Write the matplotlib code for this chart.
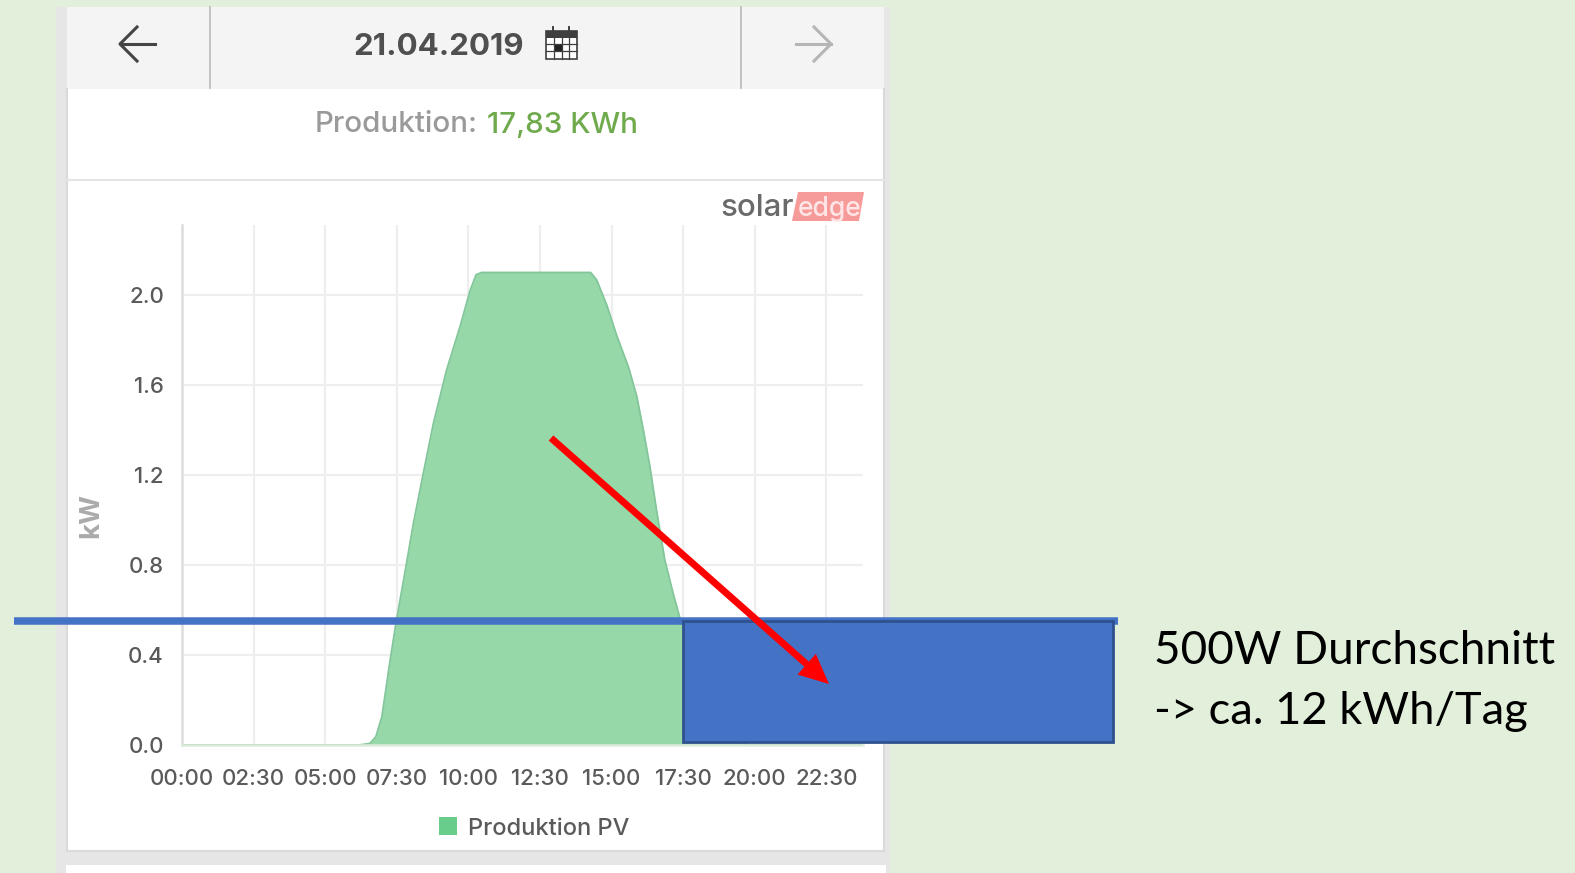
import matplotlib
matplotlib.use("Agg")
import matplotlib.pyplot as plt
from matplotlib.patches import Rectangle, Polygon, FancyArrowPatch

W, H = 1575, 873

# Chart data
hours = [0, 6.2, 6.56, 6.77, 6.98, 7.27, 7.47, 7.79, 8.08, 8.43, 8.78, 9.24, 9.71, 10.06,
         10.27, 10.46, 11.5, 12.5, 13.5, 14.27, 14.48, 14.83, 15.18, 15.59, 15.88, 16.11,
         16.34, 16.57, 16.86, 17.15, 17.39, 17.8, 18.3, 18.8, 19.3, 19.8, 23.78]
power_kw = [0, 0, 0.007, 0.037, 0.126, 0.378, 0.54, 0.77, 0.985, 1.21, 1.43, 1.667, 1.86, 2.02,
            2.09, 2.10, 2.10, 2.10, 2.10, 2.10, 2.067, 1.956, 1.82, 1.68, 1.55, 1.40,
            1.237, 1.044, 0.822, 0.674, 0.563, 0.40, 0.22, 0.09, 0.02, 0, 0]
x_tick_hours = [0, 2.5, 5, 7.5, 10, 12.5, 15, 17.5, 20, 22.5]
x_tick_labels = ["00:00", "02:30", "05:00", "07:30", "10:00", "12:30", "15:00", "17:30", "20:00", "22:30"]
y_ticks = [0.0, 0.4, 0.8, 1.2, 1.6, 2.0]
average_kw = 0.551
average_start = 17.5
average_end = 32.5
line_start = -5.87
line_end = 32.68

FILL = "#97D8A9"
EDGE = "#82C69A"
SWATCH = "#68CC8A"
GRID = "#EEEEEE"
TEXT = "#5A5A5A"
BLUE = "#4472C4"
BLUE_DARK = "#2F528F"
UI_FONT = ["Inter", "DejaVu Sans"]

fig = plt.figure(figsize=(W / 100, H / 100), dpi=100, facecolor="#E2EFDA")

# Phone screen background in pixel coordinates
ui = fig.add_axes([0, 0, 1, 1], zorder=0)
ui.set_xlim(0, W)
ui.set_ylim(H, 0)
ui.axis("off")
ui.add_patch(Rectangle((56, 7), 834, 866, fc="#E6E6E6", ec="none"))
ui.add_patch(Rectangle((67, 7), 817, 82, fc="#F4F4F4", ec="none"))
ui.add_patch(Rectangle((67, 89), 817, 762, fc="white", ec="none"))
ui.plot([67, 67, 884, 884], [89, 851, 851, 89], color="#DADADA", lw=1.5)
ui.add_patch(Rectangle((66, 865), 820, 10, fc="white", ec="none"))
ui.plot([67, 884], [180, 180], color="#E4E4E4", lw=1.5)
for xd in (210, 741):
    ui.plot([xd, xd], [7, 88], color="#BDBDBD", lw=1.3)

# Navigation arrows
ui.plot([121, 155], [44, 44], color="#444444", lw=2.2)
ui.plot([137, 120, 137], [27, 44, 61], color="#444444", lw=2.2)
ui.plot([796, 831], [44, 44], color="#B5B5B5", lw=2.2)
ui.plot([814, 831, 814], [27, 44, 61], color="#B5B5B5", lw=2.2)

# Header text
ui.text(439, 47, "21.04.2019", ha="center", va="center", fontsize=22.5, fontweight="bold",
        color="#4F4F4F", family=UI_FONT)
ui.text(315, 125, "Produktion:", ha="left", va="center", fontsize=21.3, fontweight="medium",
        color="#9A9A9A", family=UI_FONT)
ui.text(487, 125, "17,83 KWh", ha="left", va="center", fontsize=21.3, fontweight="medium",
        color="#6FAA4C", family=UI_FONT)

# Calendar icon
ui.add_patch(Rectangle((546, 31), 31, 28, fc="white", ec="#3E3E3E", lw=1.2))
ui.add_patch(Rectangle((546, 31), 31, 7, fc="#3E3E3E", ec="none"))
for gx in (554, 562, 569):
    ui.plot([gx, gx], [38, 59], color="#3E3E3E", lw=0.9)
for gy in (44, 51):
    ui.plot([546, 577], [gy, gy], color="#3E3E3E", lw=0.9)
for gx in (553, 569):
    ui.plot([gx, gx], [27, 33], color="#3E3E3E", lw=1.4)
ui.add_patch(Rectangle((554, 44), 8, 7, fc="#222222", ec="none"))

# solaredge logo
ui.add_patch(Polygon([(798, 192), (864, 192), (859, 221), (792, 221)], fc="#F79A9A", ec="none"))
ui.text(720, 208, "solar", ha="left", va="center", fontsize=22.5, fontweight="medium",
        color="#6A6A6A", family=UI_FONT)
ui.text(798, 209, "edge", ha="left", va="center", fontsize=19, fontweight="medium",
        color="#FFE6E6", family=UI_FONT)

# Chart, scaled so that 2.5 h = 71.6 px and 0.4 kW = 90 px
ax = fig.add_axes([182 / W, 1 - 745 / H, (863 - 182) / W, (745 - 225) / H], zorder=1)
ax.patch.set_alpha(0)
ax.set_xlim(0, 23.78)
ax.set_ylim(0, 2.311)
ax.set_xticks(x_tick_hours, x_tick_labels)
ax.set_yticks(y_ticks, [f"{v:.1f}" for v in y_ticks])
ax.grid(True, color=GRID, lw=1.6)
ax.set_axisbelow(True)
for side in ("top", "right"):
    ax.spines[side].set_visible(False)
ax.spines["left"].set_color("#DDDDDD")
ax.spines["left"].set_linewidth(1.8)
ax.spines["bottom"].set_color("#DDEBDD")
ax.spines["bottom"].set_linewidth(1.8)
ax.tick_params(length=0, labelsize=16, labelcolor=TEXT)
ax.tick_params(axis="x", pad=17.5)
ax.tick_params(axis="y", pad=13)
for lab in ax.get_xticklabels() + ax.get_yticklabels():
    lab.set_family(UI_FONT)
    lab.set_fontweight("medium")
ax.set_ylabel("kW", fontsize=20, fontweight="bold", color="#ABABAB", family=UI_FONT)
ax.yaxis.set_label_coords((104 - 182) / (863 - 182), (745 - 515) / (745 - 225))
ax.fill_between(hours, power_kw, color=FILL, lw=0, label="Produktion PV", zorder=2)
ax.plot(hours, power_kw, color=EDGE, lw=1.3, zorder=2.1)

# Average line and block overlaid in chart units
ax.plot([line_start, line_end], [average_kw, average_kw], color=BLUE, lw=5.4,
        clip_on=False, solid_capstyle="butt", zorder=5)
ax.add_patch(Rectangle((average_start, 0.012), average_end - average_start, average_kw - 0.012,
                       fc=BLUE, ec=BLUE_DARK, lw=2, clip_on=False, zorder=6))

# Legend
top = fig.add_axes([0, 0, 1, 1], zorder=2)
top.set_xlim(0, W)
top.set_ylim(H, 0)
top.axis("off")
top.add_patch(Rectangle((439, 817), 18, 18, fc=SWATCH, ec="none"))
top.text(468, 829, "Produktion PV", ha="left", va="center", fontsize=17, fontweight="medium",
         color=TEXT, family=UI_FONT)

# Red arrow
top.add_patch(FancyArrowPatch((551, 438), (829, 684), arrowstyle="-|>,head_length=13,head_width=6",
                              mutation_scale=1, color="#FF0000", lw=5, shrinkA=0, shrinkB=0,
                              joinstyle="miter", capstyle="butt"))

# Annotation
note_font = ["Lato", "DejaVu Sans"]
top.text(1154, 651, "500W Durchschnitt", ha="left", va="center", fontsize=33, color="black", family=note_font)
top.text(1154, 712, "-> ca. 12 kWh/Tag", ha="left", va="center", fontsize=32.6, color="black", family=note_font)

fig.savefig("out.png", dpi=100, facecolor=fig.get_facecolor())
